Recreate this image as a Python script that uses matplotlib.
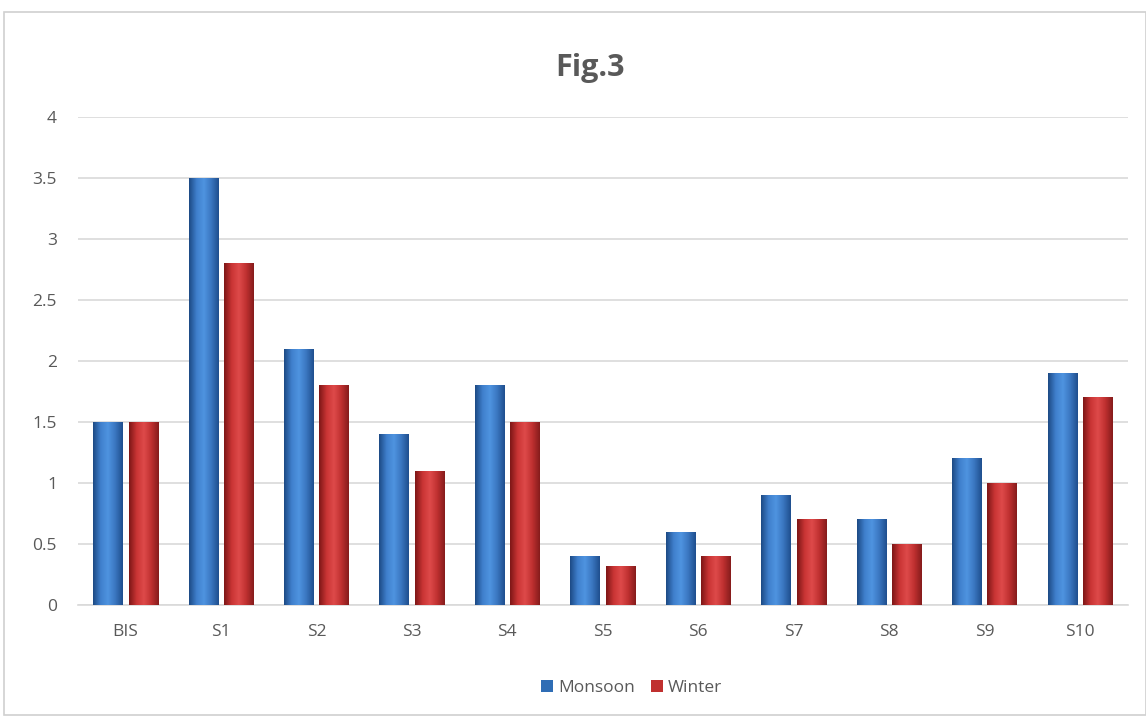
import numpy as np
import matplotlib
matplotlib.use("Agg")
import matplotlib.pyplot as plt
from matplotlib.colors import LinearSegmentedColormap
from matplotlib.patches import Rectangle, Patch

sites = ['BIS', 'S1', 'S2', 'S3', 'S4', 'S5', 'S6', 'S7', 'S8', 'S9', 'S10']
monsoon = [1.5, 3.5, 2.1, 1.4, 1.8, 0.4, 0.6, 0.9, 0.7, 1.2, 1.9]
winter = [1.5, 2.8, 1.8, 1.1, 1.5, 0.32, 0.4, 0.7, 0.5, 1.0, 1.7]

plt.rcParams['font.family'] = ['Open Sans', 'DejaVu Sans']
grey = '#595959'

# shaded colour maps: dark edges, lighter middle
blue_cm = LinearSegmentedColormap.from_list(
    'blue', ['#1d4a85', '#3f7fcc', '#4f94e0', '#3a76c0', '#1f4f8e'])
red_cm = LinearSegmentedColormap.from_list(
    'red', ['#7e1717', '#c93434', '#de4a4a', '#bf3030', '#861c1c'])

fig = plt.figure(figsize=(11.46, 7.21), dpi=100)
fig.patches.append(Rectangle((4 / 1146, 6 / 721), 1 - 4 / 1146, 1 - 18 / 721,
                             transform=fig.transFigure, fill=False,
                             edgecolor='#d0d0d0', linewidth=1.2))

ax = fig.add_axes([0.068, 0.161, 0.916, 0.677])
x = np.arange(len(sites))
w = 0.31
gap = 0.06

grad = np.linspace(0, 1, 64).reshape(1, -1)


def shaded_bars(xs, vals, cmap):
    bars = ax.bar(xs, vals, width=w, color='none', edgecolor='none', zorder=3)
    for b in bars:
        x0, y0 = b.get_x(), b.get_y()
        im = ax.imshow(grad, cmap=cmap, aspect='auto', zorder=3,
                       extent=(x0, x0 + b.get_width(), y0, y0 + b.get_height()))
        im.set_clip_path(b)
    return bars


shaded_bars(x - w / 2 - gap / 2, monsoon, blue_cm)
shaded_bars(x + w / 2 + gap / 2, winter, red_cm)

ax.set_xlim(-0.5, len(sites) - 0.5)
ax.set_ylim(0, 4)
ax.set_yticks(np.arange(0, 4.01, 0.5))
ax.set_yticklabels(['0', '0.5', '1', '1.5', '2', '2.5', '3', '3.5', '4'])
ax.set_xticks(x)
ax.set_xticklabels(sites)
ax.grid(axis='y', color='#d9d9d9', linewidth=1.2, zorder=0)
ax.set_axisbelow(True)
for s in ['top', 'right', 'left']:
    ax.spines[s].set_visible(False)
ax.spines['bottom'].set_color('#d9d9d9')
ax.spines['bottom'].set_linewidth(1.2)
ax.tick_params(axis='both', length=0, colors=grey, labelsize=12.5)
ax.tick_params(axis='x', pad=14)
ax.tick_params(axis='y', pad=15)

fig.text(0.515, 0.905, 'Fig.3', ha='center', va='center', fontsize=22,
         fontweight='bold', color=grey)

handles = [Patch(facecolor='#2f6db5', label='Monsoon'),
           Patch(facecolor='#c0302f', label='Winter')]
fig.legend(handles=handles, loc='center', bbox_to_anchor=(0.551, 0.046), ncol=2,
           frameon=False, fontsize=12.5, handlelength=0.7, handleheight=0.7,
           handletextpad=0.3, columnspacing=0.9, labelcolor=grey)

fig.savefig('out.png', dpi=100)
